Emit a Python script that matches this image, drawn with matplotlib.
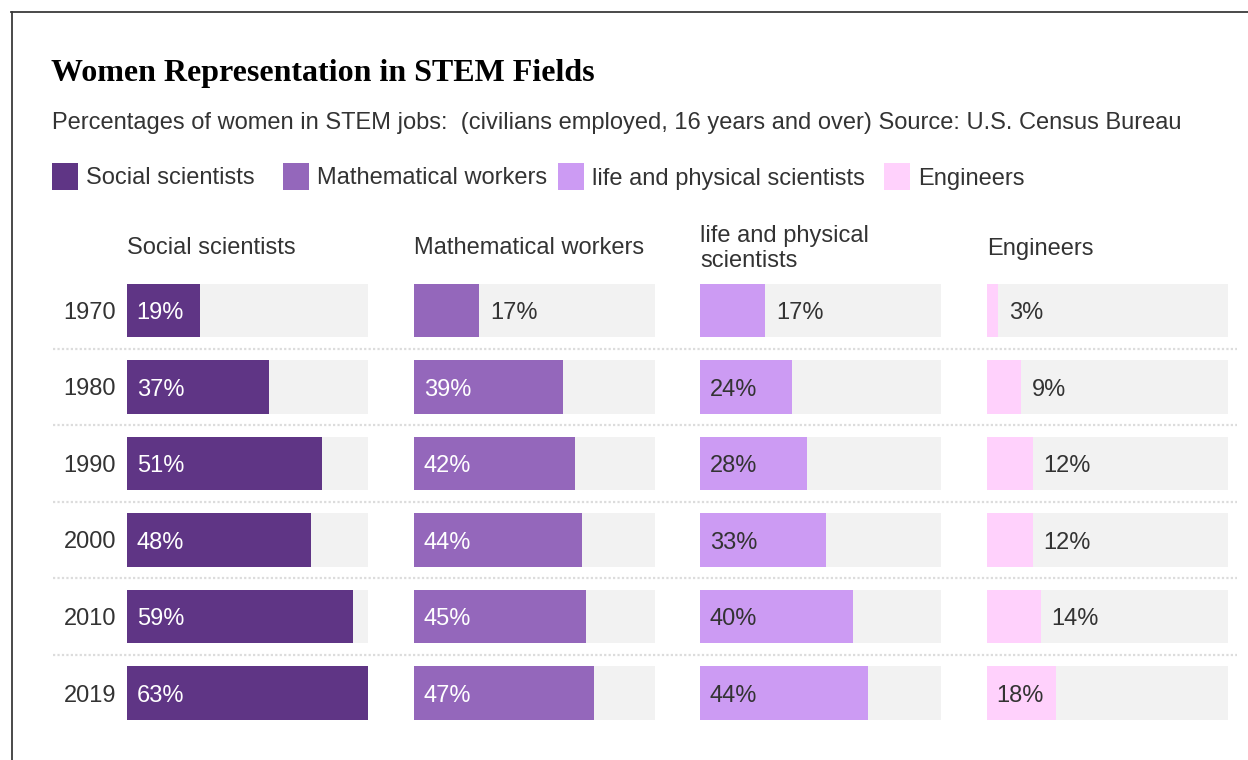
import matplotlib
matplotlib.use("Agg")
import matplotlib.pyplot as plt
from matplotlib.patches import Rectangle
from matplotlib.lines import Line2D
from matplotlib import transforms

# Data
years = ["1970", "1980", "1990", "2000", "2010", "2019"]
fields = ["Social scientists", "Mathematical workers", "life and physical scientists", "Engineers"]
headers = ["Social scientists", "Mathematical workers", "life and physical\nscientists", "Engineers"]
social = [19, 37, 51, 48, 59, 63]
math_workers = [17, 39, 42, 44, 45, 47]
life_phys = [17, 24, 28, 33, 40, 44]
engineers = [3, 9, 12, 12, 14, 18]
series = [social, math_workers, life_phys, engineers]

colors = ["#5f3585", "#9467bb", "#cc9bf3", "#ffd1fc"]
inside_text = ["white", "white", "#333333", "#333333"]
bg_gray = "#f2f2f2"
dark = "#333333"
x_max = 63

W, H = 1248, 760
fig = plt.figure(figsize=(W / 100, H / 100), dpi=100)
fig.patch.set_facecolor("white")
font = "Liberation Sans"
fs = 17


def fx(px):
    return px / W


def fy(py):
    return 1 - py / H


# Frame lines (left and top)
fig.add_artist(Line2D([fx(11.5), fx(11.5)], [fy(12), fy(760)], color="#3a3a3a", lw=1.3))
fig.add_artist(Line2D([fx(11), fx(1248)], [fy(12), fy(12)], color="#3a3a3a", lw=1.3))

# Title & subtitle
fig.text(fx(51), fy(73), "Women Representation in STEM Fields", family="Liberation Serif",
         fontweight="bold", fontsize=23, color="black", va="center", ha="left")
fig.text(fx(52), fy(123.5), "Percentages of women in STEM jobs:  (civilians employed, 16 years and over) Source: U.S. Census Bureau",
         family=font, fontsize=fs, color=dark, va="center", ha="left")

# Legend
leg_sq = [52, 283, 558, 884]
for i, name in enumerate(fields):
    fig.add_artist(Rectangle((fx(leg_sq[i]), fy(190)), fx(26), 27 / H, facecolor=colors[i],
                             edgecolor="none", transform=fig.transFigure))
    fig.text(fx(leg_sq[i] + 34), fy(178.5), name, family=font, fontsize=fs, color=dark,
             va="center", ha="left")

# Panels
panel_left = [127, 414, 700, 987]
panel_w = 241
row_h = 76.5
top = 310.5 - row_h / 2
bottom = 693 + row_h / 2

for i, vals in enumerate(series):
    ax = fig.add_axes([fx(panel_left[i]), fy(bottom), fx(panel_w), (bottom - top) / H])
    ax.set_xlim(0, x_max)
    ax.set_ylim(len(years) - 0.5, -0.5)
    ax.axis("off")
    ypos = list(range(len(years)))
    ax.barh(ypos, [x_max] * len(years), height=0.695, color=bg_gray, edgecolor="none")
    ax.barh(ypos, vals, height=0.695, color=colors[i], edgecolor="none")
    for y, v in zip(ypos, vals):
        if v >= 18:
            off = transforms.offset_copy(ax.transData, fig=fig, x=7, y=-2, units="points")
            ax.text(0, y, f"{v}%", transform=off, family=font, fontsize=fs,
                    color=inside_text[i], va="center", ha="left")
        else:
            off = transforms.offset_copy(ax.transData, fig=fig, x=7.8, y=-2, units="points")
            ax.text(v, y, f"{v}%", transform=off, family=font, fontsize=fs,
                    color=dark, va="center", ha="left")
    # header
    fig.text(fx(panel_left[i]), fy(248.5), headers[i], family=font, fontsize=fs, color=dark,
             va="center", ha="left", linespacing=1.2)

# Year labels
for k, yr in enumerate(years):
    fig.text(fx(116), fy(313 + k * row_h), yr, family=font, fontsize=fs, color=dark,
             va="center", ha="right")

# Dotted separators
for k in range(len(years) - 1):
    ysep = 310.5 + (k + 0.5) * row_h
    fig.add_artist(Line2D([fx(53), fx(1237)], [fy(ysep), fy(ysep)], color="#dcdcdc",
                          lw=1.6, linestyle=(0, (1, 1))))

fig.savefig("out.png", dpi=100, facecolor="white")
